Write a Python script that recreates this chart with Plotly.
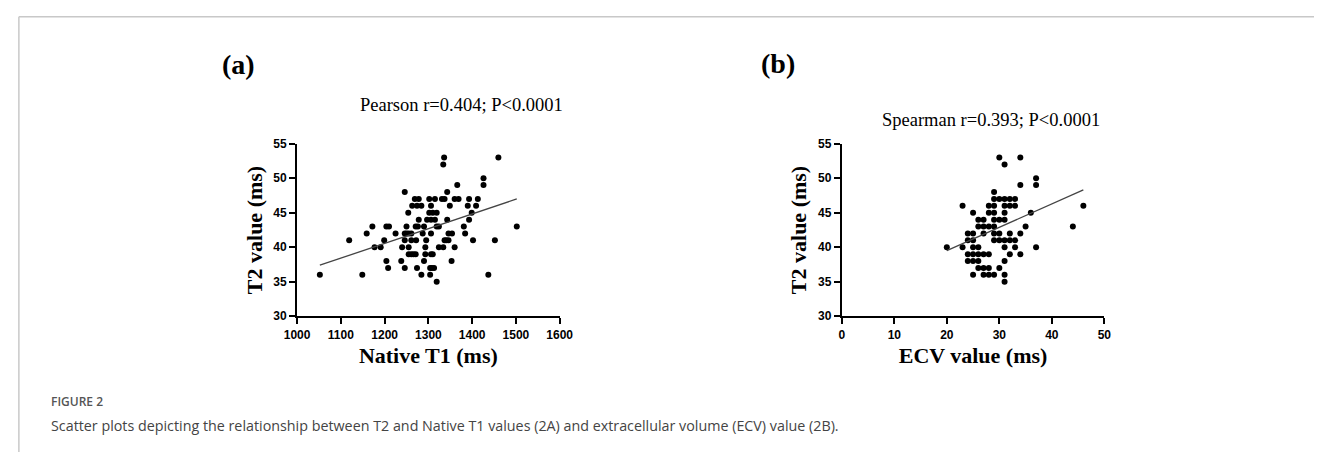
import plotly.graph_objects as go

W, H = 1328, 459

# ---------------- Panel (a): Native T1 vs T2 ----------------
a_t1 = [1336, 1460,
        1334,
        1426,
        1366, 1426,
        1246, 1343,
        1269, 1278, 1302, 1315, 1331, 1337, 1360, 1369, 1393, 1413,
        1263, 1274, 1284, 1306, 1349, 1390, 1409,
        1254, 1302, 1310, 1319, 1399,
        1278, 1297, 1306, 1315, 1343, 1393,
        1172, 1204, 1210, 1250, 1271, 1276, 1290, 1319, 1324, 1381, 1502,
        1159, 1225, 1246, 1250, 1255, 1261, 1287, 1306, 1346, 1354, 1384,
        1119, 1199, 1246, 1261, 1272, 1295, 1337, 1341, 1346, 1402, 1452,
        1177, 1191, 1240, 1255, 1293, 1324, 1334, 1360,
        1255, 1261, 1266, 1271, 1293, 1306, 1310,
        1204, 1238, 1290, 1353,
        1208, 1246, 1274, 1304, 1308, 1313,
        1052, 1149, 1284, 1304, 1437,
        1319]
a_t2 = [53, 53,
        52,
        50,
        49, 49,
        48, 48,
        47, 47, 47, 47, 47, 47, 47, 47, 47, 47,
        46, 46, 46, 46, 46, 46, 46,
        45, 45, 45, 45, 45,
        44, 44, 44, 44, 44, 44,
        43, 43, 43, 43, 43, 43, 43, 43, 43, 43, 43,
        42, 42, 42, 42, 42, 42, 42, 42, 42, 42, 42,
        41, 41, 41, 41, 41, 41, 41, 41, 41, 41, 41,
        40, 40, 40, 40, 40, 40, 40, 40,
        39, 39, 39, 39, 39, 39, 39,
        38, 38, 38, 38,
        37, 37, 37, 37, 37, 37,
        36, 36, 36, 36, 36,
        35]
# fitted regression line
a_fit_x = [1052, 1502]
a_fit_y = [37.4, 47.0]

# ---------------- Panel (b): ECV vs T2 ----------------
b_ecv = [30, 34,
         31,
         37,
         34, 37,
         29,
         29, 30, 31, 32, 33,
         23, 28, 29, 31, 32, 33, 46,
         25, 28, 29, 31, 36,
         26, 27, 29, 30, 31,
         26, 27, 28, 29, 35, 44,
         24, 25, 27, 29, 30, 32, 34,
         24, 25, 29, 30, 31, 32, 33,
         20, 23, 25, 26, 31, 33, 37,
         24, 25, 26, 27, 28, 32, 34,
         24, 25, 26, 31,
         26, 27, 28, 30,
         25, 27, 28, 29, 31,
         31]
b_t2 = [53, 53,
        52,
        50,
        49, 49,
        48,
        47, 47, 47, 47, 47,
        46, 46, 46, 46, 46, 46, 46,
        45, 45, 45, 45, 45,
        44, 44, 44, 44, 44,
        43, 43, 43, 43, 43, 43,
        42, 42, 42, 42, 42, 42, 42,
        41, 41, 41, 41, 41, 41, 41,
        40, 40, 40, 40, 40, 40, 40,
        39, 39, 39, 39, 39, 39, 39,
        38, 38, 38, 38,
        37, 37, 37, 37,
        36, 36, 36, 36, 36,
        35]
b_fit_x = [20, 46]
b_fit_y = [39.5, 48.3]

a_xticks = [1000, 1100, 1200, 1300, 1400, 1500, 1600]
b_xticks = [0, 10, 20, 30, 40, 50]
yticks = [30, 35, 40, 45, 50, 55]

panel_labels = ["(a)", "(b)"]
stat_labels = ["Pearson r=0.404; P<0.0001", "Spearman r=0.393; P<0.0001"]
x_titles = ["Native T1 (ms)", "ECV value (ms)"]
y_title = "T2 value (ms)"
caption_head = "FIGURE 2"
caption_text = ("Scatter plots depicting the relationship between T2 and Native T1 values (2A) "
                "and extracellular volume (ECV) value (2B).")

fig = go.Figure()
marker = dict(color="black", size=6, line=dict(width=0))
fit_line = dict(color="#444444", width=1.3)

fig.add_trace(go.Scatter(x=a_t1, y=a_t2, mode="markers", marker=marker,
                         xaxis="x", yaxis="y", showlegend=False))
fig.add_trace(go.Scatter(x=a_fit_x, y=a_fit_y, mode="lines", line=fit_line,
                         xaxis="x", yaxis="y", showlegend=False))
fig.add_trace(go.Scatter(x=b_ecv, y=b_t2, mode="markers", marker=marker,
                         xaxis="x2", yaxis="y2", showlegend=False))
fig.add_trace(go.Scatter(x=b_fit_x, y=b_fit_y, mode="lines", line=fit_line,
                         xaxis="x2", yaxis="y2", showlegend=False))

tickfont = dict(family="Liberation Sans, Arial", size=12, color="black", weight="bold")
titlefont = dict(family="Liberation Serif, Times New Roman", size=22, color="black", weight="bold")

def px(x):
    return x / W

def py(y):
    return 1 - y / H

common_axis = dict(showline=True, linecolor="black", linewidth=2, ticks="outside",
                   ticklen=6, tickwidth=2, tickcolor="black", showgrid=False,
                   zeroline=False, tickfont=tickfont, fixedrange=True)

ydom = [py(319), py(141)]
fig.update_layout(
    width=W, height=H,
    margin=dict(l=0, r=0, t=0, b=0),
    paper_bgcolor="white", plot_bgcolor="white",
    xaxis=dict(domain=[px(290), px(558)], range=[1000, 1600], tickvals=a_xticks,
               anchor="y", title=dict(text=x_titles[0], font=titlefont, standoff=7),
               **common_axis),
    yaxis=dict(domain=ydom, range=[30, 55], tickvals=yticks, anchor="x",
               title=dict(text=y_title, font=titlefont, standoff=5), **common_axis),
    xaxis2=dict(domain=[px(846), px(1114)], range=[0, 50], tickvals=b_xticks,
                anchor="y2", title=dict(text=x_titles[1], font=titlefont, standoff=7),
                **common_axis),
    yaxis2=dict(domain=ydom, range=[30, 55], tickvals=yticks, anchor="x2",
                title=dict(text=y_title, font=titlefont, standoff=5), **common_axis),
)

serif = "Liberation Serif, Times New Roman"
ann = [
    dict(text=panel_labels[0], x=px(230), y=py(59), xanchor="center", yanchor="middle",
         font=dict(family=serif, size=28, color="black", weight="bold")),
    dict(text=panel_labels[1], x=px(781), y=py(58), xanchor="center", yanchor="middle",
         font=dict(family=serif, size=28, color="black", weight="bold")),
    dict(text=stat_labels[0], x=px(458), y=py(101), xanchor="center", yanchor="middle",
         font=dict(family=serif, size=18.5, color="black")),
    dict(text=stat_labels[1], x=px(998), y=py(117), xanchor="center", yanchor="middle",
         font=dict(family=serif, size=18.5, color="black")),
    dict(text=caption_head, x=px(37), y=py(407), xanchor="left", yanchor="middle",
         font=dict(family="Open Sans", size=12, color="#555555", weight=600)),
    dict(text=caption_text, x=px(37), y=py(432), xanchor="left", yanchor="middle",
         font=dict(family="Open Sans", size=14.3, color="#444444")),
]
for a in ann:
    a.update(xref="paper", yref="paper", showarrow=False)
fig.update_layout(annotations=ann)

fig.update_layout(shapes=[
    dict(type="line", xref="paper", yref="paper", x0=px(6), x1=1, y0=py(10), y1=py(10),
         line=dict(color="#c8c8c8", width=1.5)),
    dict(type="line", xref="paper", yref="paper", x0=px(6), x1=px(6), y0=py(10), y1=0,
         line=dict(color="#c8c8c8", width=1.5)),
])

fig.write_html(
    "out.html",
    config={"displayModeBar": False},
    post_script="document.body.style.margin='0';document.body.style.overflow='hidden';",
)
